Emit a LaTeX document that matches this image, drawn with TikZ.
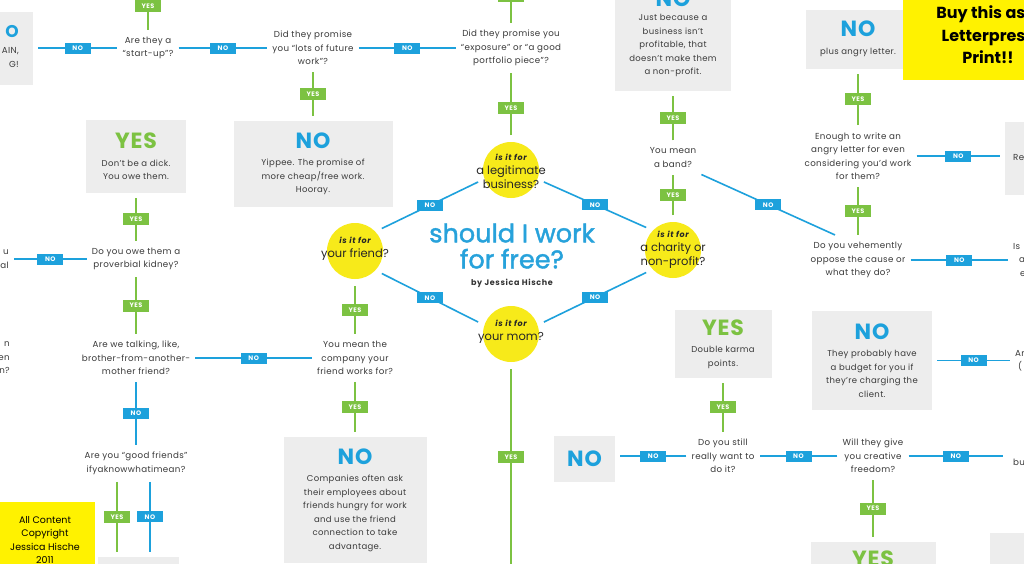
\documentclass[tikz,border=0pt]{standalone}
\usepackage{fontspec}
\setmainfont{Poppins}
\newfontfamily\qfont{Poppins}[LetterSpace=4]
\newfontfamily\tagfont{Poppins}[LetterSpace=8]
\newfontfamily\titlefont{Poppins}[FakeBold=1.6]
\usetikzlibrary{calc}
\definecolor{noBlue}{HTML}{1DA1DC}
\definecolor{yesGreen}{HTML}{7CC242}
\definecolor{dotYellow}{HTML}{F7EA1A}
\definecolor{adYellow}{HTML}{FFF200}
\definecolor{boxGray}{HTML}{EDEDED}
\definecolor{textGray}{HTML}{3A3A3A}
\definecolor{titleBlue}{HTML}{27A2DB}

\newcommand{\bigNo}[1]{{\fontsize{22}{22}\selectfont\bfseries\color{noBlue}#1}}
\newcommand{\bigYes}[1]{{\fontsize{22}{22}\selectfont\bfseries\color{yesGreen}#1}}
\newcommand{\isitfor}{{\tagfont\fontsize{8}{9}\selectfont\bfseries\itshape is it for}}

\tikzset{
  ques/.style={align=center, text=textGray, font=\qfont\fontsize{8.7}{13.5}\selectfont,
    inner xsep=5pt, inner ysep=7pt},
  endbox/.style={fill=boxGray, align=center, text=textGray,
    font=\qfont\fontsize{8.5}{13.5}\selectfont, inner sep=0pt, outer sep=5pt},
  bubble/.style={circle, fill=dotYellow, minimum size=56pt, inner sep=0pt, outer sep=7pt},
  bubbletext/.style={align=center, font=\fontsize{11.5}{14}\selectfont, text=black!85},
  noline/.style={draw=noBlue, line width=1.6pt},
  yesline/.style={draw=yesGreen, line width=1.6pt},
  notag/.style={fill=noBlue, text=white, font=\tagfont\bfseries\fontsize{6.5}{7}\selectfont,
    minimum width=26pt, minimum height=11pt, inner sep=0pt},
  yestag/.style={notag, fill=yesGreen, minimum height=12pt}
}

\begin{document}
\begin{tikzpicture}[x=1pt, y=-1pt]
\useasboundingbox (0,0) rectangle (1024,563);
\fill[white] (0,0) rectangle (1024,563);
\clip (0,0) rectangle (1024,563);

% the four questions in the middle
\node[font=\titlefont\fontsize{25.5}{26}\selectfont, text=titleBlue, align=center] (title) at (512,246) {should I work\\for free?};
\node[font=\tagfont\bfseries\fontsize{8}{9}\selectfont, text=black!80] (byline) at (512,283) {by Jessica Hische};

\node[bubble] (cbiz) at (511,170) {};
\node[bubbletext] (cbiztxt) at (511,171) {\isitfor\\a legitimate\\business?};
\node[bubble] (cfriend) at (355,251) {};
\node[bubbletext] (cfriendtxt) at (355,249) {\isitfor\\your friend?};
\node[bubble] (ccharity) at (673,250) {};
\node[bubbletext] (ccharitytxt) at (673,250) {\isitfor\\a charity or\\non-profit?};
\node[bubble] (cmom) at (511,334) {};
\node[bubbletext] (cmomtxt) at (511,332) {\isitfor\\your mom?};

\draw[noline] (cbiz.200) -- node[notag]{NO} (cfriend.40);
\draw[noline] (cbiz.340) -- node[notag]{NO} (ccharity.140);
\draw[noline] (cfriend.320) -- node[notag]{NO} (cmom.160);
\draw[noline] (ccharity.220) -- node[notag]{NO} (cmom.20);

\coordinate (momdown) at (511,600);
\draw[yesline] (cmom) -- node[yestag, pos=0.38]{YES} (momdown);

% top row
\node[endbox, minimum width=120pt, minimum height=73pt] (bxagain) at (-27,48) {};
\node[ques, anchor=east, align=right, inner xsep=0pt] (txagain) at (19,46) {{\fontsize{17}{17}\selectfont\bfseries\color{noBlue}O}\hspace{15pt}\\[3pt]AIN,\\G!\hspace{9pt}};
\node[ques] (qstartup) at (148,48) {Are they a\\“start-up”?};
\coordinate (startuptop) at (148,-17);
\draw[yesline] (qstartup) -- node[yestag]{YES} (startuptop);
\draw[noline] (bxagain) -- node[notag]{NO} (qstartup);

\node[ques] (qfuture) at (313,48) {Did they promise\\you “lots of future\\work”?};
\draw[noline] (qstartup) -- node[notag]{NO} (qfuture);
\node[endbox, minimum width=159pt, minimum height=86pt] (bxyippee) at (313,164) {\bigNo{NO}\\[4pt]Yippee. The promise of\\more cheap/free work.\\Hooray.};
\draw[yesline] (qfuture) -- node[yestag]{YES} (bxyippee);

\node[ques] (qexposure) at (511,48) {Did they promise you\\“exposure” or “a good\\portfolio piece”?};
\draw[noline] (qfuture) -- node[notag]{NO} (qexposure);
\coordinate (exposuretop) at (511,-31);
\draw[yesline] (qexposure) -- node[yestag]{YES} (exposuretop);
\draw[yesline] (cbiz) -- node[yestag, pos=0.43]{YES} (qexposure);

% friend branch
\node[ques] (qcompany) at (355,358) {You mean the\\company your\\friend works for?};
\draw[yesline] (cfriend) -- node[yestag]{YES} (qcompany);
\node[endbox, minimum width=143pt, minimum height=126pt] (bxcompanies) at (355,500) {\bigNo{NO}\\[4pt]Companies often ask\\their employees about\\friends hungry for work\\and use the friend\\connection to take\\advantage.};
\draw[yesline] (qcompany) -- node[yestag]{YES} (bxcompanies);

\node[ques] (qtalking) at (136,358) {Are we talking, like,\\brother-from-another-\\mother friend?};
\draw[noline] (qcompany) -- node[notag]{NO} (qtalking);
\node[ques, anchor=east, align=right, inner xsep=0pt] (qtalkleft) at (10,358) {n\hspace{2pt}\\en\\n?\hspace{1pt}};

\node[ques] (qkidney) at (136,259) {Do you owe them a\\proverbial kidney?};
\draw[yesline] (qtalking) -- node[yestag]{YES} (qkidney);
\node[endbox, minimum width=100pt, minimum height=73pt] (bxdick) at (136,156.5) {\bigYes{YES}\\[4pt]Don’t be a dick.\\You owe them.};
\draw[yesline] (qkidney) -- node[yestag]{YES} (bxdick);
\node[ques, anchor=east, align=right] (qkidleft) at (14,259) {u\hspace{4pt}\\al};
\draw[noline] (qkidney) -- node[notag]{NO} (qkidleft);

\node[ques] (qgood) at (136,463.5) {Are you “good friends”\\ifyaknowwhatimean?};
\draw[noline] (qtalking) -- node[notag]{NO} (qgood);
\node[endbox, minimum width=81pt, minimum height=40pt, anchor=north west] (bxbl) at (93,552) {};
\path (qgood.south) ++(-19,0) coordinate (goodyes) ++(33,0) coordinate (goodno);
\draw[yesline] (goodyes) -- node[yestag]{YES} (bxbl.north -| goodyes);
\draw[noline] (goodno) -- node[notag]{NO} (bxbl.north -| goodno);

\node[fill=adYellow, minimum width=100pt, minimum height=76pt, align=center,
  font=\fontsize{9.5}{13.5}\selectfont] (bxcopy) at (45,540) {All Content\\Copyright\\Jessica Hische\\2011};

% charity branch
\node[endbox, minimum width=116pt, minimum height=114pt] (bxprofit) at (673,34) {\bigNo{NO}\\[1pt]Just because a\\business isn’t\\profitable, that\\doesn’t make them\\a non-profit.};
\node[ques] (qband) at (673,157.5) {You mean\\a band?};
\draw[yesline] (qband) -- node[yestag]{YES} (bxprofit);
\draw[yesline] (ccharity) -- node[yestag]{YES} (qband);

\node[ques] (qoppose) at (858,260) {Do you vehemently\\oppose the cause or\\what they do?};
\draw[noline] (qband.south east) -- node[notag]{NO} ($(qoppose.north)+(-23,0)$);
\node[ques] (qangry) at (858,156) {Enough to write an\\angry letter for even\\considering you’d work\\for them?};
\draw[yesline] (qoppose) -- node[yestag]{YES} (qangry);
\node[endbox, minimum width=105pt, minimum height=59pt] (bxangry) at (858,39) {\bigNo{NO}\\[4pt]plus angry letter.};
\draw[yesline] (qangry) -- node[yestag]{YES} (bxangry);

\node[endbox, minimum width=100pt, minimum height=73pt, anchor=north west] (bxre) at (1000,117) {};
\node[ques, anchor=west, inner xsep=0pt] (txre) at (1013,158) {Re};
\draw[noline] (qangry.east) -- node[notag]{NO} (qangry.east -| bxre.west);

\node[ques, anchor=west, align=left] (qis) at (1008,260) {Is\\\hspace{6pt}a\\\hspace{7pt}e};
\draw[noline] (qoppose) -- node[notag]{NO} (qis);

\node[fill=adYellow, minimum width=170pt, minimum height=90pt, align=center,
  font=\bfseries\fontsize{16}{22.5}\selectfont] (bxbuy) at (988,35) {Buy this as a\\Letterpress\\Print!!};

% mom branch
\node[endbox, minimum width=97pt, minimum height=68pt] (bxkarma) at (723,344) {\bigYes{YES}\\[4pt]Double karma\\points.};
\node[ques] (qstill) at (723,456) {Do you still\\really want to\\do it?};
\draw[yesline] (qstill) -- node[yestag]{YES} (bxkarma);
\node[endbox, minimum width=61pt, minimum height=46pt] (bxstillno) at (584.5,459) {\bigNo{NO}};
\draw[noline] (qstill.west) -- node[notag]{NO} (qstill.west -| bxstillno.east);

\node[ques] (qfreedom) at (873,456) {Will they give\\you creative\\freedom?};
\draw[noline] (qfreedom) -- node[notag]{NO} (qstill);
\node[ques, anchor=west, inner xsep=10pt] (qbu) at (1003,462) {bu};
\draw[noline] (qfreedom.east) -- node[notag]{NO} (qfreedom.east -| qbu.west);
\node[endbox, minimum width=125pt, anchor=north, inner ysep=9pt, text depth=40pt] (bxfreeyes) at (873,537) {\bigYes{YES}};
\draw[yesline] (qfreedom) -- node[yestag]{YES} (bxfreeyes);

\node[endbox, minimum width=120pt, minimum height=99pt] (bxbudget) at (872,360.5) {\bigNo{NO}\\[4pt]They probably have\\a budget for you if\\they’re charging the\\client.};
\node[ques, anchor=west, align=left] (qar) at (1010,361) {Ar\\\hspace{3pt}(};
\draw[noline] (bxbudget.east) -- node[notag]{NO} (bxbudget.east -| qar.west);

\node[endbox, minimum width=80pt, minimum height=60pt, anchor=north west] (bxbr) at (985,528) {};
\end{tikzpicture}
\end{document}
